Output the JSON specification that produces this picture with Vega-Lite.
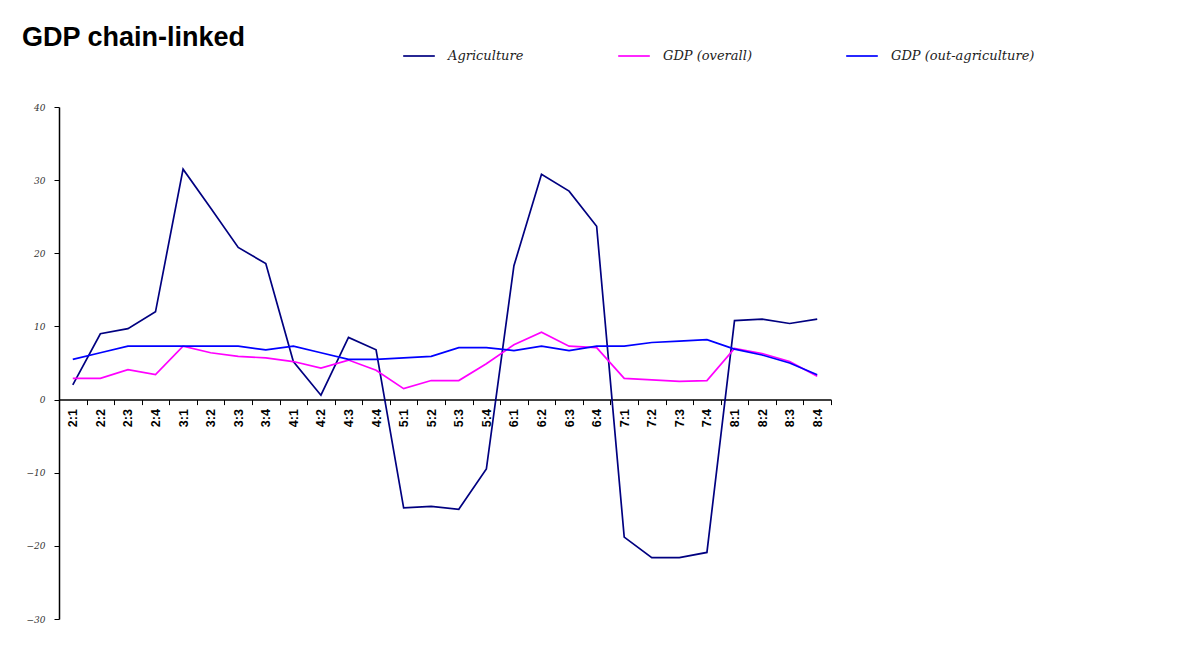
{
  "$schema": "https://vega.github.io/schema/vega-lite/v6.json",
  "autosize": {"type": "none"},
  "padding": {"left": 59, "top": 107, "right": 363, "bottom": 26},
  "width": 772,
  "height": 512,
  "background": "white",
  "title": {
    "text": "GDP chain-linked",
    "anchor": "start",
    "frame": "group",
    "font": "Liberation Sans",
    "fontSize": 27,
    "fontWeight": "bold",
    "color": "black",
    "baseline": "alphabetic",
    "dx": -37,
    "dy": 43,
    "offset": 9
  },
  "data": {
    "values": [
      {"q": "2:1", "Agriculture": 2.0, "GDP (overall)": 2.9, "GDP (out-agriculture)": 5.5},
      {"q": "2:2", "Agriculture": 9.0, "GDP (overall)": 2.9, "GDP (out-agriculture)": 6.4},
      {"q": "2:3", "Agriculture": 9.7, "GDP (overall)": 4.1, "GDP (out-agriculture)": 7.3},
      {"q": "2:4", "Agriculture": 12.0, "GDP (overall)": 3.4, "GDP (out-agriculture)": 7.3},
      {"q": "3:1", "Agriculture": 31.5, "GDP (overall)": 7.3, "GDP (out-agriculture)": 7.3},
      {"q": "3:2", "Agriculture": 26.2, "GDP (overall)": 6.4, "GDP (out-agriculture)": 7.3},
      {"q": "3:3", "Agriculture": 20.8, "GDP (overall)": 5.9, "GDP (out-agriculture)": 7.3},
      {"q": "3:4", "Agriculture": 18.6, "GDP (overall)": 5.7, "GDP (out-agriculture)": 6.8},
      {"q": "4:1", "Agriculture": 5.2, "GDP (overall)": 5.2, "GDP (out-agriculture)": 7.3},
      {"q": "4:2", "Agriculture": 0.6, "GDP (overall)": 4.3, "GDP (out-agriculture)": 6.4},
      {"q": "4:3", "Agriculture": 8.5, "GDP (overall)": 5.4, "GDP (out-agriculture)": 5.5},
      {"q": "4:4", "Agriculture": 6.8, "GDP (overall)": 4.0, "GDP (out-agriculture)": 5.5},
      {"q": "5:1", "Agriculture": -14.8, "GDP (overall)": 1.5, "GDP (out-agriculture)": 5.7},
      {"q": "5:2", "Agriculture": -14.6, "GDP (overall)": 2.6, "GDP (out-agriculture)": 5.9},
      {"q": "5:3", "Agriculture": -15.0, "GDP (overall)": 2.6, "GDP (out-agriculture)": 7.1},
      {"q": "5:4", "Agriculture": -9.5, "GDP (overall)": 4.9, "GDP (out-agriculture)": 7.1},
      {"q": "6:1", "Agriculture": 18.3, "GDP (overall)": 7.5, "GDP (out-agriculture)": 6.7},
      {"q": "6:2", "Agriculture": 30.8, "GDP (overall)": 9.2, "GDP (out-agriculture)": 7.3},
      {"q": "6:3", "Agriculture": 28.5, "GDP (overall)": 7.3, "GDP (out-agriculture)": 6.7},
      {"q": "6:4", "Agriculture": 23.7, "GDP (overall)": 7.1, "GDP (out-agriculture)": 7.3},
      {"q": "7:1", "Agriculture": -18.8, "GDP (overall)": 2.9, "GDP (out-agriculture)": 7.3},
      {"q": "7:2", "Agriculture": -21.6, "GDP (overall)": 2.7, "GDP (out-agriculture)": 7.8},
      {"q": "7:3", "Agriculture": -21.6, "GDP (overall)": 2.5, "GDP (out-agriculture)": 8.0},
      {"q": "7:4", "Agriculture": -20.9, "GDP (overall)": 2.6, "GDP (out-agriculture)": 8.2},
      {"q": "8:1", "Agriculture": 10.8, "GDP (overall)": 7.0, "GDP (out-agriculture)": 6.9},
      {"q": "8:2", "Agriculture": 11.0, "GDP (overall)": 6.3, "GDP (out-agriculture)": 6.1},
      {"q": "8:3", "Agriculture": 10.4, "GDP (overall)": 5.2, "GDP (out-agriculture)": 5.0},
      {"q": "8:4", "Agriculture": 11.0, "GDP (overall)": 3.2, "GDP (out-agriculture)": 3.4}
    ]
  },
  "transform": [
    {"fold": ["Agriculture", "GDP (overall)", "GDP (out-agriculture)"], "as": ["series", "value"]}
  ],
  "mark": {"type": "line", "strokeWidth": 1.7, "clip": false},
  "encoding": {
    "x": {
      "field": "q",
      "type": "ordinal",
      "sort": null,
      "bandPosition": 0.5,
      "scale": {"type": "band", "paddingInner": 0, "paddingOuter": 0},
      "axis": {
        "title": null,
        "orient": "bottom",
        "offset": -219.4,
        "labelAngle": 270,
        "labelFont": "Liberation Sans",
        "labelFontSize": 12.5,
        "labelFontWeight": "bold",
        "labelColor": "black",
        "labelPadding": 4,
        "tickBand": "extent",
        "tickSize": 5,
        "tickColor": "black",
        "domainColor": "black",
        "domainWidth": 1.5,
        "grid": false
      }
    },
    "y": {
      "field": "value",
      "type": "quantitative",
      "scale": {"domain": [-30, 40], "nice": false, "zero": false},
      "axis": {
        "title": null,
        "values": [-30, -20, -10, 0, 10, 20, 30, 40],
        "grid": false,
        "labelFont": "DejaVu Serif",
        "labelFontStyle": "italic",
        "labelFontSize": 9,
        "labelColor": "#333333",
        "labelPadding": 9,
        "tickSize": 5,
        "tickColor": "black",
        "domainColor": "black",
        "domainWidth": 1.5
      }
    },
    "color": {
      "field": "series",
      "type": "nominal",
      "scale": {
        "domain": ["Agriculture", "GDP (overall)", "GDP (out-agriculture)"],
        "range": ["#000080", "#FF00FF", "#0000FF"]
      },
      "legend": {
        "title": null,
        "orient": "none",
        "direction": "horizontal",
        "legendX": 343,
        "legendY": -68,
        "symbolType": "stroke",
        "symbolSize": 1000,
        "symbolStrokeWidth": 1.7,
        "labelFont": "DejaVu Serif",
        "labelFontStyle": "italic",
        "labelFontSize": 13,
        "labelColor": "#222222",
        "labelOffset": 12,
        "columnPadding": 90
      }
    }
  },
  "config": {
    "view": {"stroke": null}
  }
}
